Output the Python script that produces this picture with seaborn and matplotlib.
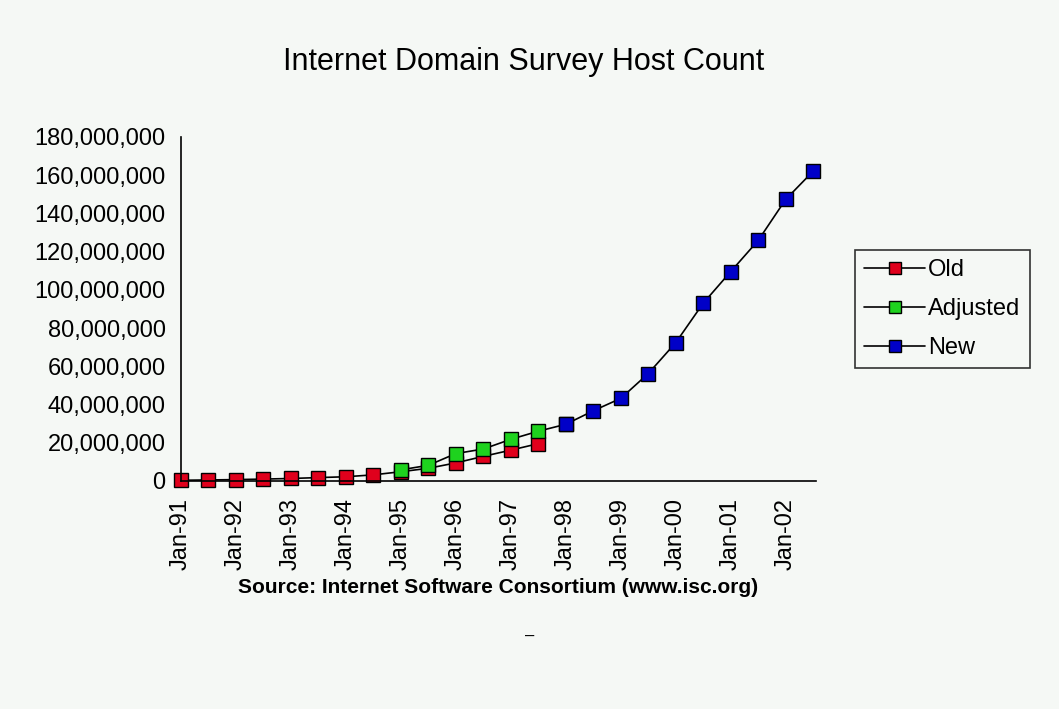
import pandas as pd
import matplotlib.pyplot as plt
import seaborn as sns
from matplotlib.lines import Line2D

# survey dates, one every six months
periods = ["Jan-91", "Jul-91", "Jan-92", "Jul-92", "Jan-93", "Jul-93", "Jan-94", "Jul-94",
           "Jan-95", "Jul-95", "Jan-96", "Jul-96", "Jan-97", "Jul-97", "Jan-98", "Jul-98",
           "Jan-99", "Jul-99", "Jan-00", "Jul-00", "Jan-01", "Jul-01", "Jan-02", "Jul-02"]

old = [376000, 535000, 727000, 992000, 1313000, 1776000, 2217000, 3212000,
       4852000, 6642000, 9472000, 12881000, 16146000, 19540000]
adjusted = [5846000, 8200000, 14352000, 16729000, 21819000, 26053000, 29670000]
new = [29670000, 36739000, 43230000, 56218000, 72398092, 93047785,
       109574429, 125888197, 147344723, 162128493]

rows = []
for i, v in enumerate(old):
    rows.append({"idx": i, "hosts": v, "series": "Old"})
for i, v in enumerate(adjusted):
    rows.append({"idx": i + 8, "hosts": v, "series": "Adjusted"})
for i, v in enumerate(new):
    rows.append({"idx": i + 14, "hosts": v, "series": "New"})
table = pd.DataFrame(rows)

bg = "#f5f8f5"
sns.set_style("white")
plt.rcParams["font.family"] = ["Liberation Sans", "DejaVu Sans"]
plt.rcParams["text.color"] = "black"
plt.rcParams["xtick.color"] = "black"
plt.rcParams["ytick.color"] = "black"
plt.rcParams["axes.labelcolor"] = "black"

fig = plt.figure(figsize=(10.59, 7.09), dpi=100, facecolor=bg)
ax = fig.add_axes([0.1709, 0.3216, 0.5996, 0.4852])
ax.set_facecolor(bg)

order = ["Old", "Adjusted", "New"]
colors = {"Old": "#e0001c", "Adjusted": "#1ed21e", "New": "#0000c8"}
sns.lineplot(data=table, x="idx", y="hosts", hue="series", hue_order=order,
             palette=colors, marker="s", markersize=9.5, markeredgecolor="black",
             markeredgewidth=1, ax=ax, legend=False)
for line in ax.lines:
    face = line.get_color()
    line.set_color("black")
    line.set_markerfacecolor(face)
    line.set_markeredgecolor("black")
    line.set_linewidth(1.2)
    line.set_clip_on(False)

ax.set_xlim(0, 23.1)
ax.set_ylim(0, 180000000)
ax.set_yticks(range(0, 180000001, 20000000))
ax.set_yticklabels([f"{v:,}" for v in range(0, 180000001, 20000000)], fontsize=17)
ax.set_xticks(range(len(periods)))
ax.set_xticklabels([p if i % 2 == 0 else "" for i, p in enumerate(periods)],
                   rotation=90, fontsize=17)
ax.tick_params(axis="both", direction="out", length=7, width=1.2, color="black", pad=4)
ax.tick_params(axis="x", length=8)
sns.despine(ax=ax)
for s in ["left", "bottom"]:
    ax.spines[s].set_color("black")
    ax.spines[s].set_linewidth(1.2)

ax.set_ylabel("")
ax.set_xlabel("Source: Internet Software Consortium (www.isc.org)", fontsize=15,
              fontweight="bold", labelpad=6)
fig.text(0.494, 0.912, "Internet Domain Survey Host Count", fontsize=22, ha="center", va="center")
fig.text(0.5, 0.102, "\u2013", fontsize=12, ha="center", va="center")

# legend built from the same series colours
handles = [Line2D([], [], color="black", lw=1.2, marker="s", markersize=8.5,
                  markerfacecolor=colors[k], markeredgecolor="black") for k in order]
leg = fig.legend(handles, order, loc="upper left",
                 bbox_to_anchor=(0.807, 0.648), fontsize=17, frameon=True, fancybox=False,
                 edgecolor="black", facecolor=bg, handlelength=2.6, handletextpad=0.1,
                 borderpad=0.4, labelspacing=0.72, borderaxespad=0)
leg.get_frame().set_linewidth(1.2)

fig.savefig("out.png", dpi=100, facecolor=bg)
